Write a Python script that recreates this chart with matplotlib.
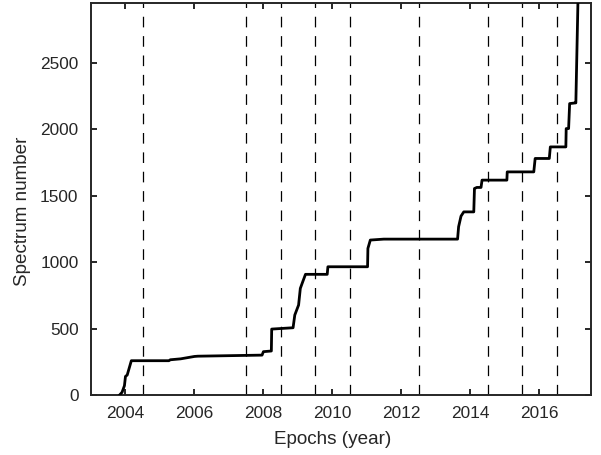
import matplotlib
matplotlib.use("Agg")
import matplotlib.pyplot as plt

plt.rcParams['font.family'] = ['Liberation Sans', 'DejaVu Sans']

# Cumulative spectrum count versus observation epoch
epochs = [2003.83, 2003.90, 2003.97, 2004.00, 2004.05, 2004.17, 2005.26, 2005.30,
          2005.60, 2006.00, 2006.10, 2007.96, 2008.00, 2008.23, 2008.24, 2008.86,
          2008.91, 2009.02, 2009.07, 2009.14, 2009.22, 2009.85, 2009.87, 2011.02,
          2011.03, 2011.10, 2011.49, 2013.63, 2013.66, 2013.73, 2013.81, 2014.10,
          2014.12, 2014.19, 2014.31, 2014.34, 2015.06, 2015.07, 2015.84, 2015.88,
          2016.29, 2016.32, 2016.77, 2016.78, 2016.85, 2016.88, 2017.04, 2017.06,
          2017.12]
counts = [0, 20, 70, 140, 150, 258, 258, 265,
          272, 290, 292, 300, 326, 331, 496, 506,
          602, 677, 802, 852, 908, 908, 965, 965,
          1103, 1166, 1173, 1173, 1266, 1346, 1378, 1378,
          1554, 1562, 1562, 1617, 1617, 1679, 1679, 1780,
          1780, 1867, 1867, 2005, 2005, 2193, 2198, 2198,
          2950]

# Epoch boundaries marked by dashed lines
boundaries = [2004.5, 2007.5, 2008.5, 2009.5, 2010.5, 2012.5, 2014.5, 2015.5, 2016.5]

xticks = [2004, 2006, 2008, 2010, 2012, 2014, 2016]
yticks = [0, 500, 1000, 1500, 2000, 2500]

fig = plt.figure(figsize=(6.01, 4.55), dpi=100)
ax = fig.add_axes([0.1514, 0.1319, 0.832, 0.8615])

for b in boundaries:
    ax.axvline(b, color='black', linewidth=0.9, dashes=(8.5, 7), zorder=1)

ax.plot(epochs, counts, color='black', linewidth=2.0, zorder=3)

ax.set_xlim(2003.0, 2017.5)
ax.set_ylim(0, 2950)
ax.set_xticks(xticks)
ax.set_yticks(yticks)

dark = '#262626'
for s in ax.spines.values():
    s.set_linewidth(1.4)
    s.set_color(dark)
ax.tick_params(direction='in', length=4, width=1.4, top=True, right=True,
               labelsize=12.4, colors=dark, labelcolor=dark)
ax.tick_params(axis='x', pad=8)
ax.tick_params(axis='y', pad=9)

ax.set_xlabel('Epochs (year)', fontsize=13.6, color=dark)
ax.set_ylabel('Spectrum number', fontsize=13.6, color=dark)
ax.xaxis.set_label_coords((333 - 91) / 500, -(440 - 395) / 392, transform=ax.transAxes)
ax.yaxis.set_label_coords(-(91 - 23) / 500, (395 - 211) / 392, transform=ax.transAxes)
ax.xaxis.label.set_va('center')
ax.yaxis.label.set_va('center')

fig.savefig('out.png', dpi=100)
